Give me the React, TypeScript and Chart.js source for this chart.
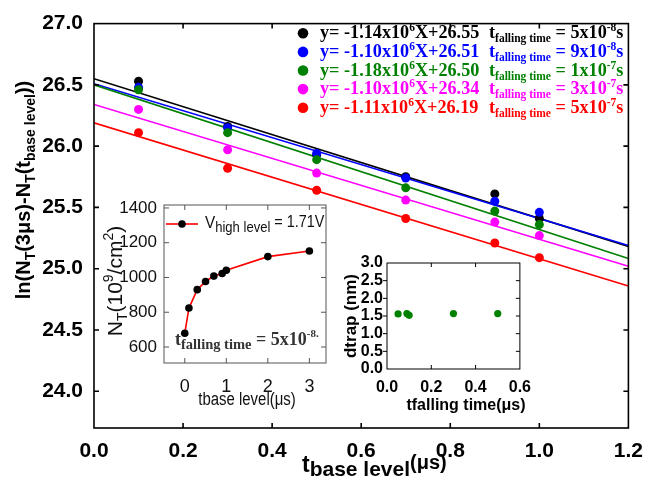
import React, { useEffect, useRef } from 'react';
import { Chart, registerables } from 'chart.js';

Chart.register(...registerables);

const SANS = "'Liberation Sans', Arial, sans-serif";
const NARROW = "'Liberation Sans Narrow', 'Arial Narrow', 'Liberation Sans', Arial, sans-serif";
const SERIF = "'Liberation Serif', 'Times New Roman', serif";

// ---------- main chart data ----------
const baseLevelTimes = [0.1, 0.3, 0.5, 0.7, 0.9, 1.0];
const series50ns = [26.53, 26.16, 25.93, 25.75, 25.61, 25.41];
const series90ns = [26.48, 26.15, 25.94, 25.74, 25.55, 25.46];
const series100ns = [26.46, 26.11, 25.89, 25.66, 25.47, 25.36];
const series300ns = [26.30, 25.97, 25.78, 25.56, 25.38, 25.27];
const series500ns = [26.11, 25.82, 25.64, 25.41, 25.21, 25.09];
const fitSlopes = [-1.14, -1.10, -1.18, -1.10, -1.11];
const fitIntercepts = [26.55, 26.51, 26.50, 26.34, 26.19];
const fallingMantissa = ['5', '9', '1', '3', '5'];
const fallingExponent = ['-8', '-8', '-7', '-7', '-7'];
const seriesColors = ['#000000', '#0000ff', '#008000', '#ff00ff', '#ff0000'];
const fitRange = [0, 1.2];
const mainXTicks = [0, 0.2, 0.4, 0.6, 0.8, 1.0, 1.2];
const mainYTicks = [24.0, 24.5, 25.0, 25.5, 26.0, 26.5, 27.0];

// ---------- inset 1 data ----------
const insetBaseTimes = [0, 0.1, 0.3, 0.5, 0.7, 0.9, 1.0, 2, 3];
const insetNT = [679, 824, 930, 977, 1008, 1023, 1042, 1120, 1152];
const inset1XTicks = [0, 1, 2, 3];
const inset1YTicks = [600, 800, 1000, 1200, 1400];

// ---------- inset 2 data ----------
const fallingTimes = [0.05, 0.09, 0.1, 0.3, 0.5];
const dtrapValues = [1.56, 1.57, 1.52, 1.57, 1.57];
const inset2XTicks = [0, 0.2, 0.4, 0.6];
const inset2YTicks = [0, 0.5, 1.0, 1.5, 2.0, 2.5, 3.0];

const allSeries = [series50ns, series90ns, series100ns, series300ns, series500ns];

type Seg = { t: string; size: number; dy?: number; weight?: string };
type RichOpts = { fam: string; weight: string; color: string; align?: 'left' | 'center' | 'right'; sx?: number };

function segFont(s: Seg, o: RichOpts) {
  return `${s.weight ?? o.weight} ${s.size}px ${o.fam}`;
}

function drawRich(ctx: CanvasRenderingContext2D, segs: Seg[], x: number, y: number, o: RichOpts) {
  ctx.save();
  let w = 0;
  for (const s of segs) {
    ctx.font = segFont(s, o);
    w += ctx.measureText(s.t).width;
  }
  const sx = o.sx ?? 1;
  const start = o.align === 'center' ? -(w * sx) / 2 : o.align === 'right' ? -w * sx : 0;
  ctx.translate(x + start, y);
  ctx.scale(sx, 1);
  ctx.fillStyle = o.color;
  ctx.textAlign = 'left';
  ctx.textBaseline = 'alphabetic';
  let px = 0;
  for (const s of segs) {
    ctx.font = segFont(s, o);
    ctx.fillText(s.t, px, s.dy ?? 0);
    px += ctx.measureText(s.t).width;
  }
  ctx.restore();
}

function drawRichRot(ctx: CanvasRenderingContext2D, segs: Seg[], cx: number, cy: number, base: number, o: RichOpts) {
  ctx.save();
  ctx.translate(cx, cy);
  ctx.rotate(-Math.PI / 2);
  drawRich(ctx, segs, 0, base, { ...o, align: 'center' });
  ctx.restore();
}

type FrameCfg = {
  color: string; lw: number; len: number;
  top: number[]; bottom: number[]; left: number[]; right: number[]; leftOut?: boolean;
};

function framePlugin(id: string, cfg: FrameCfg) {
  return {
    id,
    afterDatasetsDraw(chart: any) {
      const { ctx, chartArea: a, scales } = chart;
      const xs = scales.x;
      const ys = scales.y;
      ctx.save();
      ctx.strokeStyle = cfg.color;
      ctx.lineWidth = cfg.lw;
      ctx.strokeRect(a.left, a.top, a.right - a.left, a.bottom - a.top);
      ctx.beginPath();
      for (const v of cfg.top) {
        const p = xs.getPixelForValue(v);
        ctx.moveTo(p, a.top);
        ctx.lineTo(p, a.top + cfg.len);
      }
      for (const v of cfg.bottom) {
        const p = xs.getPixelForValue(v);
        ctx.moveTo(p, a.bottom);
        ctx.lineTo(p, a.bottom - cfg.len);
      }
      for (const v of cfg.left) {
        const p = ys.getPixelForValue(v);
        ctx.moveTo(a.left, p);
        ctx.lineTo(a.left + (cfg.leftOut ? -cfg.len : cfg.len), p);
      }
      for (const v of cfg.right) {
        const p = ys.getPixelForValue(v);
        ctx.moveTo(a.right, p);
        ctx.lineTo(a.right - cfg.len, p);
      }
      ctx.stroke();
      ctx.restore();
    },
  };
}

function linScale(
  axis: 'x' | 'y', min: number, max: number, ticks: number[], fmt: (v: number) => string,
  font: any, pad: number, fitSize: number, color = '#000'
) {
  return {
    type: 'linear',
    min,
    max,
    afterBuildTicks: (s: any) => {
      s.ticks = ticks.map((v) => ({ value: v }));
    },
    afterFit: (s: any) => {
      if (axis === 'x') s.height = fitSize;
      else s.width = fitSize;
    },
    grid: { display: false, drawTicks: false },
    border: { display: false },
    ticks: {
      font, color, padding: pad, autoSkip: false, maxRotation: 0, minRotation: 0,
      callback: (v: any) => fmt(Number(v)),
    },
  };
}

function mainConfig(): any {
  const datasets: any[] = [];
  allSeries.forEach((vals, i) => {
    datasets.push({
      data: fitRange.map((x) => ({ x, y: fitIntercepts[i] + fitSlopes[i] * x })),
      showLine: true,
      borderColor: seriesColors[i],
      borderWidth: 1.6,
      pointRadius: 0,
      order: 20 - i,
    });
    datasets.push({
      data: baseLevelTimes.map((x, j) => ({ x, y: vals[j] })),
      showLine: false,
      pointRadius: 4.5,
      pointBorderWidth: 0,
      pointBackgroundColor: seriesColors[i],
      backgroundColor: seriesColors[i],
      order: 10 - i,
    });
  });

  const decor = {
    id: 'mainDecor',
    afterDraw(chart: any) {
      const ctx: CanvasRenderingContext2D = chart.ctx;
      // y title
      drawRichRot(ctx, [
        { t: 'ln(N', size: 20 },
        { t: 'T', size: 14, dy: 5 },
        { t: '(3μs)-N', size: 20 },
        { t: 'T', size: 14, dy: 5 },
        { t: '(t', size: 20 },
        { t: 'base level', size: 14, dy: 5 },
        { t: '))', size: 20 },
      ], 23, 190, 7, { fam: SANS, weight: 'bold', color: '#000' });
      // x title
      drawRich(ctx, [
        { t: 't', size: 23 },
        { t: 'base level', size: 21, dy: 4 },
        { t: '(μs)', size: 20, dy: -3 },
      ], 302, 472, { fam: SANS, weight: 'bold', color: '#000' });
      // legend
      for (let i = 0; i < 5; i++) {
        const ry = 33.3 + i * 18.6;
        ctx.save();
        ctx.fillStyle = seriesColors[i];
        ctx.beginPath();
        ctx.arc(303, ry, 5.3, 0, Math.PI * 2);
        ctx.fill();
        ctx.restore();
        const o = { fam: SERIF, weight: 'bold', color: seriesColors[i] };
        drawRich(ctx, [
          { t: 'y= ' + fitSlopes[i].toFixed(2) + 'x10', size: 18.2 },
          { t: '6', size: 11.5, dy: -7 },
          { t: 'X+' + fitIntercepts[i].toFixed(2), size: 18.2 },
        ], 320, ry + 5, o);
        drawRich(ctx, [
          { t: 't', size: 18.2 },
          { t: 'falling time', size: 11.5, dy: 4 },
          { t: ' = ' + fallingMantissa[i] + 'x10', size: 18.2 },
          { t: fallingExponent[i], size: 11.5, dy: -7 },
          { t: 's', size: 18.2 },
        ], 489, ry + 5, o);
      }
    },
  };

  return {
    type: 'scatter',
    data: { datasets },
    options: {
      responsive: false,
      animation: false,
      devicePixelRatio: 1,
      layout: { padding: { top: 16, right: 16, left: 0, bottom: 0 } },
      plugins: { legend: { display: false }, tooltip: { enabled: false } },
      scales: {
        x: linScale('x', 0, 1.2, mainXTicks, (v) => v.toFixed(1), { family: SANS, size: 21, weight: 'bold' }, 11, 59),
        y: linScale('y', 23.7, 27.0, mainYTicks, (v) => v.toFixed(1), { family: SANS, size: 21, weight: 'bold' }, 11, 94),
      },
    },
    plugins: [
      framePlugin('mainFrame', {
        color: '#000', lw: 1.6, len: 5,
        top: mainXTicks.slice(1, -1), bottom: mainXTicks.slice(1, -1),
        left: mainYTicks.slice(0, -1), right: mainYTicks.slice(0, -1),
      }),
      decor,
    ],
  };
}

function inset1Config(): any {
  const decor = {
    id: 'inset1Decor',
    afterDraw(chart: any) {
      const ctx: CanvasRenderingContext2D = chart.ctx;
      const a = chart.chartArea;
      // legend
      ctx.save();
      ctx.strokeStyle = '#ff0000';
      ctx.lineWidth = 1.6;
      ctx.beginPath();
      ctx.moveTo(66, 39);
      ctx.lineTo(98, 39);
      ctx.stroke();
      ctx.fillStyle = '#000';
      ctx.beginPath();
      ctx.arc(82, 39, 3.8, 0, Math.PI * 2);
      ctx.fill();
      ctx.restore();
      drawRich(ctx, [
        { t: 'V', size: 17 },
        { t: 'high level', size: 14.5, dy: 4 },
        { t: ' = 1.71V', size: 16, dy: -1 },
      ], 105, 43, { fam: SANS, weight: 'normal', color: '#111', sx: 0.9 });
      // falling time annotation (clipped by box)
      ctx.save();
      ctx.beginPath();
      ctx.rect(a.left, a.top, a.right - a.left - 1, a.bottom - a.top);
      ctx.clip();
      drawRich(ctx, [
        { t: 't', size: 18 },
        { t: 'falling time', size: 14.5, dy: 4 },
        { t: ' = 5x10', size: 18 },
        { t: '-8.', size: 11, dy: -8 },
      ], 75, 160, { fam: SERIF, weight: 'bold', color: '#333' });
      ctx.restore();
      // y title
      drawRichRot(ctx, [
        { t: 'N', size: 21 },
        { t: 'T', size: 14, dy: 5 },
        { t: '(10', size: 21 },
        { t: '9', size: 14, dy: -9 },
        { t: '/cm', size: 21 },
        { t: '2', size: 14, dy: -9 },
        { t: ')', size: 21 },
      ], 14, 96, 7.5, { fam: SANS, weight: 'normal', color: '#111' });
      // x title
      drawRich(ctx, [{ t: 'tbase level(μs)', size: 18 }], 147, 220,
        { fam: SANS, weight: 'normal', color: '#111', align: 'center', sx: 0.83 });
    },
  };
  return {
    type: 'scatter',
    data: {
      datasets: [{
        data: insetBaseTimes.map((x, i) => ({ x, y: insetNT[i] })),
        showLine: true,
        borderColor: '#ff0000',
        borderWidth: 1.6,
        pointRadius: 3.8,
        pointBorderWidth: 0,
        pointBackgroundColor: '#000',
        tension: 0,
      }],
    },
    options: {
      responsive: false,
      animation: false,
      devicePixelRatio: 1,
      layout: { padding: { top: 20, right: 9, left: 0, bottom: 0 } },
      plugins: { legend: { display: false }, tooltip: { enabled: false } },
      scales: {
        x: linScale('x', -0.5, 3.4, inset1XTicks, (v) => String(v), { family: NARROW, size: 18 }, 13, 57, '#111'),
        y: linScale('y', 508, 1417, inset1YTicks, (v) => String(v), { family: NARROW, size: 17 }, 7, 64, '#111'),
      },
    },
    plugins: [
      framePlugin('inset1Frame', {
        color: '#555', lw: 1, len: 5,
        top: inset1XTicks, bottom: inset1XTicks, left: inset1YTicks, right: inset1YTicks,
      }),
      decor,
    ],
  };
}

function inset2Config(): any {
  const decor = {
    id: 'inset2Decor',
    afterDraw(chart: any) {
      const ctx: CanvasRenderingContext2D = chart.ctx;
      drawRichRot(ctx, [{ t: 'dtrap (nm)', size: 17 }], 20, 71, 6, { fam: SANS, weight: 'bold', color: '#000' });
      drawRich(ctx, [{ t: 'tfalling time(μs)', size: 16 }], 136, 165,
        { fam: SANS, weight: 'bold', color: '#000', align: 'center' });
    },
  };
  return {
    type: 'scatter',
    data: {
      datasets: [{
        data: fallingTimes.map((x, i) => ({ x, y: dtrapValues[i] })),
        showLine: false,
        pointRadius: 3.6,
        pointBorderWidth: 0,
        pointBackgroundColor: '#008000',
      }],
    },
    options: {
      responsive: false,
      animation: false,
      devicePixelRatio: 1,
      layout: { padding: { top: 18, right: 16, left: 0, bottom: 0 } },
      plugins: { legend: { display: false }, tooltip: { enabled: false } },
      scales: {
        x: linScale('x', 0, 0.6, inset2XTicks, (v) => v.toFixed(1), { family: SANS, size: 16, weight: 'bold' }, 9, 51),
        y: linScale('y', 0, 3.0, inset2YTicks, (v) => v.toFixed(1), { family: SANS, size: 16, weight: 'bold' }, 4, 57),
      },
    },
    plugins: [
      framePlugin('inset2Frame', {
        color: '#000', lw: 1, len: 4,
        top: [0.2, 0.4], bottom: [0.2, 0.4],
        left: inset2YTicks.slice(1, -1), right: inset2YTicks.slice(1, -1), leftOut: true,
      }),
      decor,
    ],
  };
}

export default function App() {
  const mainRef = useRef<HTMLCanvasElement>(null);
  const in1Ref = useRef<HTMLCanvasElement>(null);
  const in2Ref = useRef<HTMLCanvasElement>(null);

  useEffect(() => {
    document.body.style.margin = '0';
    const charts = [
      new Chart(mainRef.current as HTMLCanvasElement, mainConfig()),
      new Chart(in1Ref.current as HTMLCanvasElement, inset1Config()),
      new Chart(in2Ref.current as HTMLCanvasElement, inset2Config()),
    ];
    return () => charts.forEach((c) => c.destroy());
  }, []);

  return (
    <div style={{ position: 'fixed', left: 0, top: 0, width: 654, height: 487, background: '#fff' }}>
      <canvas ref={mainRef} width={654} height={487} style={{ position: 'absolute', left: 0, top: 0 }} />
      <canvas ref={in1Ref} width={235} height={235} style={{ position: 'absolute', left: 100, top: 185 }} />
      <canvas ref={in2Ref} width={210} height={175} style={{ position: 'absolute', left: 330, top: 245 }} />
    </div>
  );
}
